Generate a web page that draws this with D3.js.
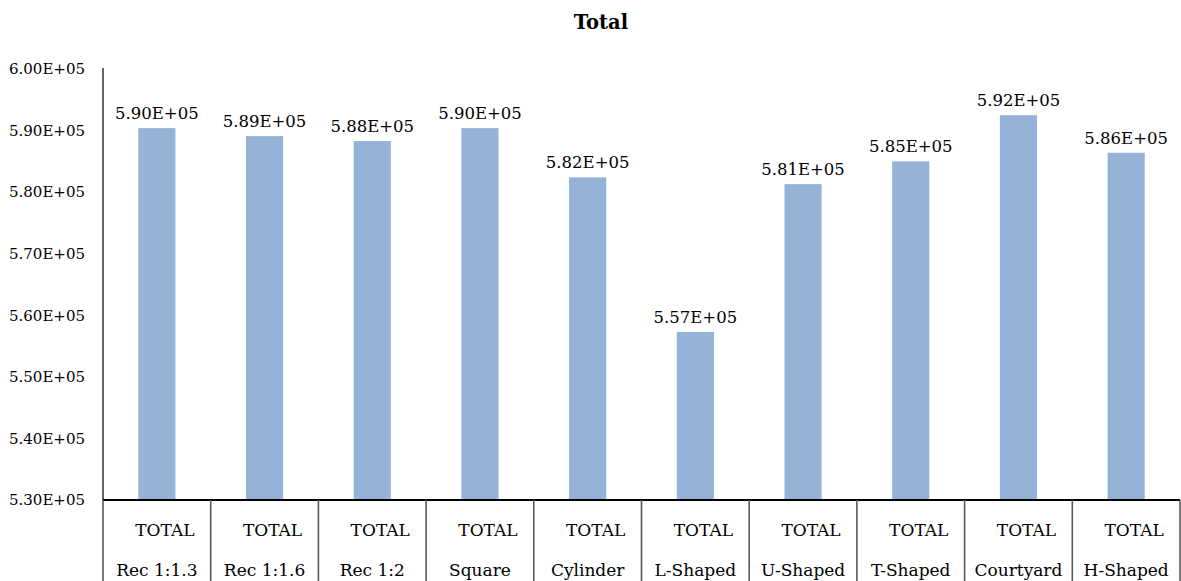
<!DOCTYPE html>
<html>
<head>
<meta charset="utf-8">
<script src="https://cdn.jsdelivr.net/npm/d3@7"></script>
<style>
  html, body { margin: 0; padding: 0; background: #fff; }
  svg { display: block; }
  text { font-family: "DejaVu Serif", "Liberation Serif", serif; fill: #000; }
</style>
</head>
<body>
<svg id="chart" width="1181" height="581"></svg>
<script>
const categories = ["Rec 1:1.3", "Rec 1:1.6", "Rec 1:2", "Square", "Cylinder", "L-Shaped", "U-Shaped", "T-Shaped", "Courtyard", "H-Shaped"];
const subLabels = ["TOTAL", "TOTAL", "TOTAL", "TOTAL", "TOTAL", "TOTAL", "TOTAL", "TOTAL", "TOTAL", "TOTAL"];
const values = [590400, 589100, 588300, 590400, 582400, 557300, 581300, 585000, 592500, 586400];
const yTicks = [530000, 540000, 550000, 560000, 570000, 580000, 590000, 600000];
const title = "Total";

function sci(v) {
  const e = Math.floor(Math.log10(Math.abs(v)));
  const m = v / Math.pow(10, e);
  const es = (e < 0 ? "-" : "+") + String(Math.abs(e)).padStart(2, "0");
  return m.toFixed(2) + "E" + es;
}

const svg = d3.select("#chart");
const mLeft = 103, mRight = 1180, mTop = 69, mBottom = 500;

const x = d3.scaleBand().domain(categories).range([mLeft, mRight]).paddingInner(0).paddingOuter(0);
const y = d3.scaleLinear().domain([530000, 600000]).range([mBottom, mTop]);
const barW = x.bandwidth() * 0.345;

// title
svg.append("text")
  .attr("x", 601).attr("y", 29)
  .attr("text-anchor", "middle")
  .attr("font-weight", "bold")
  .attr("font-size", 19.5)
  .text(title);

// y axis labels
const yAxis = d3.axisLeft(y).tickValues(yTicks).tickFormat(sci).tickSize(0).tickPadding(18);
const yg = svg.append("g").attr("transform", `translate(${mLeft},0)`).call(yAxis);
yg.select(".domain").remove();
yg.selectAll("text").attr("font-family", "DejaVu Serif").attr("font-size", 15).attr("fill", "#000");

// y axis line
svg.append("line")
  .attr("x1", mLeft).attr("x2", mLeft).attr("y1", mTop - 1).attr("y2", mBottom)
  .attr("stroke", "#000").attr("stroke-width", 1.2);

// bars
svg.append("g").selectAll("rect").data(values).join("rect")
  .attr("x", (d, i) => x(categories[i]) + x.bandwidth() / 2 - barW / 2)
  .attr("y", d => y(d))
  .attr("width", barW)
  .attr("height", d => mBottom - y(d))
  .attr("fill", "#95b3d7");

// data labels
svg.append("g").selectAll("text").data(values).join("text")
  .attr("x", (d, i) => x(categories[i]) + x.bandwidth() / 2)
  .attr("y", d => y(d) - 9)
  .attr("text-anchor", "middle")
  .attr("font-size", 16.5)
  .text(d => sci(d));

// x axis line
svg.append("line")
  .attr("x1", mLeft).attr("x2", mRight).attr("y1", mBottom).attr("y2", mBottom)
  .attr("stroke", "#000").attr("stroke-width", 2);

// category separators
const seps = categories.map(c => x(c)).concat([mRight]);
svg.append("g").selectAll("line").data(seps).join("line")
  .attr("x1", d => d).attr("x2", d => d)
  .attr("y1", mBottom).attr("y2", 581)
  .attr("stroke", "#595959").attr("stroke-width", 1.6);

// sub labels
svg.append("g").selectAll("text").data(subLabels).join("text")
  .attr("x", (d, i) => x(categories[i]) + x.bandwidth() / 2 + 8)
  .attr("y", 536)
  .attr("text-anchor", "middle")
  .attr("font-size", 17)
  .text(d => d);

// category labels
svg.append("g").selectAll("text").data(categories).join("text")
  .attr("x", d => x(d) + x.bandwidth() / 2)
  .attr("y", 576)
  .attr("text-anchor", "middle")
  .attr("font-size", 17)
  .text(d => d);
</script>
</body>
</html>
